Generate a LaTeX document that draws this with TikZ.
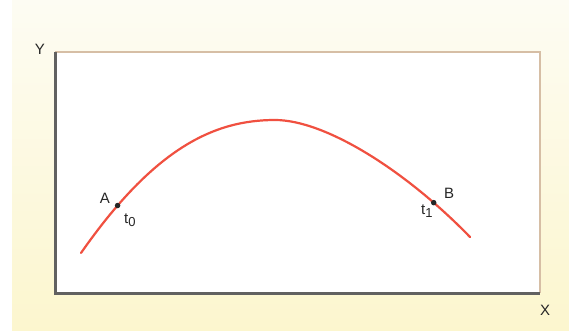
\documentclass[tikz,border=0pt]{standalone}
\usepackage{fontspec}
\setmainfont{Liberation Sans}
\definecolor{bgtop}{RGB}{253,252,243}
\definecolor{bgbot}{RGB}{252,246,206}
\definecolor{curvered}{RGB}{240,80,64}
\definecolor{framecol}{RGB}{214,190,165}
\begin{document}
\begin{tikzpicture}[x=1pt,y=-1pt,
  axis/.style={draw=black!62, line width=3pt},
  frame/.style={draw=framecol, line width=2.2pt},
  curve/.style={draw=curvered, line width=2.2pt, line cap=round},
  pt/.style={circle, fill=black!85, inner sep=0pt, minimum size=5.5pt},
  lbl/.style={font=\fontsize{15}{17}\selectfont, inner sep=0pt, text=black!85}]
\fill[white] (0,0) rectangle (569,331);
\shade[top color=bgtop, bottom color=bgbot] (12,0) rectangle (569,331);
\useasboundingbox (0,0) rectangle (569,331);
\fill[white] (55,52) rectangle (540,293);
\draw[frame] (55,52) -- (540,52) -- (540,293);
\draw[axis] (55,52) -- (55,293) -- (540,293);
\node[lbl] (Y) at (40,49) {Y};
\node[lbl] (X) at (545,310) {X};
\coordinate (start) at (81,253);
\coordinate (peak) at (275,120);
\coordinate (end) at (470,237);
\draw[curve] (start) .. controls (155,147) and (215,120) .. coordinate[pos=0.17] (A) (peak)
  .. controls (325,120) and (405,170) .. coordinate[pos=0.82] (B) (end);
\node[pt] (dA) at (A) {};
\node[pt] (dB) at (B) {};
\node[lbl] (la) at (105,198) {A};
\node[lbl, anchor=west] (ta) at (124,220) {t\raisebox{-3pt}{\fontsize{13}{15}\selectfont 0}};
\node[lbl] (lb) at (449,193) {B};
\node[lbl, anchor=west] (tb) at (421,211) {t\raisebox{-3pt}{\fontsize{13}{15}\selectfont 1}};
\end{tikzpicture}
\end{document}
